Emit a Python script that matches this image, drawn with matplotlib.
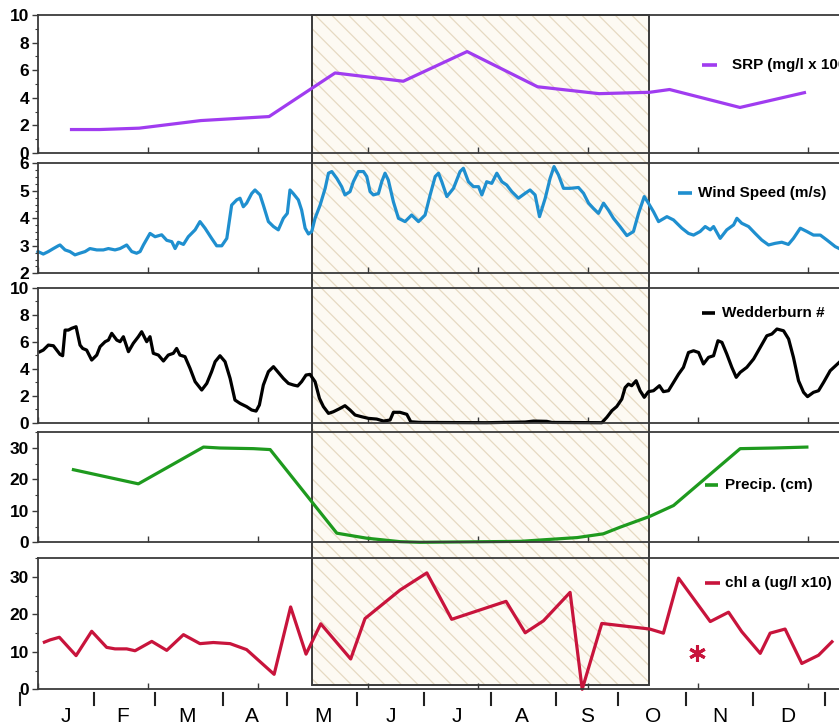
import matplotlib
matplotlib.use('Agg')
import matplotlib.pyplot as plt
from matplotlib.patches import Rectangle
from matplotlib.lines import Line2D
from matplotlib.transforms import blended_transform_factory
from matplotlib.ticker import MultipleLocator, FixedLocator

plt.rcParams['font.family'] = ['Liberation Sans', 'DejaVu Sans']

# ---------------- data (x = day of year) ----------------
srp_day = [14.5, 28, 46, 74, 105, 135, 166, 195, 227, 255, 278, 287, 319, 349]
srp_val = [1.7, 1.7, 1.8, 2.35, 2.64, 5.8, 5.2, 7.35, 4.8, 4.3, 4.4, 4.6, 3.3, 4.4]

wind_day = [0, 2.4, 4.7, 7, 9.2, 10, 12.3, 14.5, 16.8, 19, 21.4, 23.6, 26.7, 29.7, 32, 35, 37.3,
            40.3, 42.6, 44.8, 46.4, 47.9, 50.9, 53.2, 56.2, 58.5, 60.8, 62.3, 63.8, 66.1, 68.3,
            71.4, 73.6, 75.9, 78.9, 81.2, 83.5, 85.8, 88, 90.3, 91.8, 93.3, 94.8, 97.1, 98.6,
            100.9, 102.4, 104.7, 107, 109.2, 111.5, 113.3, 114.5, 116, 118.3, 119.8, 121.4,
            122.9, 124.4, 125.9, 128.2, 130.5, 132, 133.5, 135.8, 138, 139.5, 141.8, 143.3,
            145.6, 147.9, 149.4, 150.9, 152.4, 154.7, 156.2, 157.7, 159.2, 161.5, 163.8, 166.8,
            169.8, 172.9,
            175.9, 178.2, 180.5, 182, 183.5, 185.8, 188.8, 191.8, 193.3, 195.6, 197.9, 200.2,
            201.7, 203.9, 206.2, 208.5, 210.8, 213, 215.3, 218.3, 221.4, 223.6, 225.9, 227.9,
            230.5, 232.7, 234.5, 236.5, 238.8, 241.8, 245.6, 247.9, 250.2, 252.4, 254.7, 257,
            259.2, 261.5, 264.5, 267.6, 270.6, 272.9, 275.5, 277.4, 279.7, 282, 285.8, 288.8,
            292.6, 295.6, 297.9, 300.9, 303.2, 305.5, 307, 310, 313, 316.1, 317.6, 319.8, 322.9,
            325.9, 328.9, 332, 335, 338, 341, 343.3, 346.4, 349.4, 352.4, 355.5, 358.5, 362.3,
            364.1]
wind_val = [2.79, 2.7, 2.79, 2.9, 3.0, 3.03, 2.85, 2.79, 2.67, 2.73, 2.79, 2.9, 2.85, 2.85, 2.9,
            2.85, 2.9, 3.03, 2.79, 2.73, 2.79, 3.03, 3.45, 3.33, 3.4, 3.2, 3.15, 2.9, 3.13, 3.05,
            3.33, 3.58, 3.88, 3.64, 3.27, 3.0, 3.0, 3.27, 4.48, 4.67, 4.73, 4.42, 4.55, 4.9, 5.03,
            4.85, 4.48, 3.88, 3.7, 3.58, 4.0, 4.18, 5.03, 4.9, 4.67, 4.3, 3.64, 3.43, 3.52, 4.0,
            4.48, 5.09, 5.64, 5.7, 5.45, 5.15, 4.85, 4.97, 5.33, 5.7, 5.7, 5.52, 4.97, 4.85, 4.9,
            5.33, 5.64, 5.39, 4.6, 4.0, 3.88, 4.12, 3.88,
            4.12, 4.85, 5.52, 5.64, 5.33, 4.79, 5.09, 5.7, 5.82, 5.33, 5.15, 5.15, 4.85, 5.33,
            5.27, 5.64, 5.33, 5.21, 4.97, 4.73, 4.91, 5.03, 4.85, 4.06, 4.73, 5.45, 5.88, 5.58,
            5.09, 5.09, 5.12, 4.91, 4.55, 4.36, 4.18, 4.55, 4.3, 4.0, 3.7, 3.37, 3.52, 4.18, 4.79,
            4.55, 4.24, 3.88, 4.06, 3.94, 3.64, 3.45, 3.39, 3.52, 3.7, 3.58, 3.7, 3.27, 3.58,
            3.76, 4.0, 3.82, 3.7, 3.45, 3.21, 3.03, 3.09, 3.13, 3.05, 3.27, 3.64, 3.52, 3.39,
            3.39, 3.21, 2.97, 2.9]

wedd_day = [0.9, 2.4, 4.7, 7, 8.5, 10, 11.2, 12.3, 13.8, 15.3, 17.3, 19.1, 20.3, 22.1, 24.4, 26.7,
            28.2, 30.5, 32, 33.5, 35.8, 37.3, 38.8, 41.1, 43.3, 45.6, 47.1, 49.4, 50.9, 52.4,
            54.7, 57, 59.2, 61.5, 63, 64.5, 66.8, 69.1, 71.4, 74.4, 76.7, 78.9, 80.5, 82.7, 85,
            87.3, 89.5, 91.8, 94.8, 97.1, 99.1, 100.6, 102.4, 104.7, 107, 109.2, 111.5, 113.8,
            116.1, 118, 119.8, 121.8, 123.6, 125.9, 127.9, 129.7, 132, 134.2, 137.3, 139.5,
            141.8, 144.1, 147.1, 150.2, 153.9, 157, 160, 161.5, 164.5, 167.6, 169.4, 173.6,
            203.9, 221.4, 225.2, 231.2, 233.5, 256.2, 258.5, 260.8, 263, 265.3, 266.8, 268.3,
            269.8, 271.8, 273.6, 275.5, 277.4, 279.7, 282.4, 284.2, 286.5, 288.8, 291.1, 293.3,
            295.6, 297.9, 300.2, 302.4, 304.7, 307, 309, 310.8, 313, 315.3, 317.3, 319.1, 322.1,
            325.2, 328.2, 331.2, 333.5, 335.8, 338.8, 341.1, 343.3, 345.6, 347.9, 349.7, 352.4,
            354.7, 357, 360, 364.1]
wedd_val = [5.26, 5.38, 5.75, 5.7, 5.38, 5.06, 4.96, 6.86, 6.86, 6.99, 7.11, 5.75, 5.5, 5.38, 4.64,
            5.01, 5.63, 6.0, 6.12, 6.62, 6.12, 6.0, 6.37, 5.26, 5.88, 6.37, 6.74, 6.0, 6.37, 5.14,
            5.01, 4.57, 5.01, 5.14, 5.5, 5.01, 4.89, 4.02, 3.04, 2.42, 2.91, 3.78, 4.52, 4.96,
            4.52, 3.28, 1.68, 1.43, 1.19, 0.94, 0.86, 1.31, 2.79, 3.78, 4.15, 3.73, 3.28, 2.91,
            2.79, 2.72, 3.04, 3.53, 3.58, 3.04, 1.80, 1.19, 0.69, 0.81, 1.06, 1.26, 0.94, 0.57,
            0.44, 0.32, 0.27, 0.12, 0.2, 0.77, 0.77, 0.62, 0.07, 0.02,
            0.0, 0.05, 0.12, 0.1, 0.02, 0.0, 0.4, 0.89, 1.2, 1.75, 2.6, 2.86, 2.74, 3.11, 2.37,
            1.88, 2.3, 2.37, 2.74, 2.3, 2.37, 2.99, 3.6, 4.1, 5.2, 5.33, 5.2, 4.35, 4.84, 4.96,
            6.07, 5.95, 5.09, 4.1, 3.36, 3.73, 4.1, 4.72, 5.58, 6.44, 6.57, 6.94, 6.81, 6.2,
            4.84, 3.11, 2.25, 1.93, 2.25, 2.37, 2.99, 3.85, 4.47]

precip_day = [16.1, 45.6, 75.2, 82.7, 97.9, 105.5, 135.8, 149.4, 164.5, 173.6, 219.1, 245,
              256.9, 264.5, 278.2, 288.8, 319.1, 334.2, 349.4]
precip_val = [23.1, 18.6, 30.3, 30.0, 29.8, 29.5, 2.9, 1.3, 0.2, 0.0, 0.3, 1.5, 2.7, 4.8, 8.3,
              11.7, 29.8, 30.0, 30.3]

chl_day = [2.9, 5.5, 9.7, 17.3, 24.4, 31.2, 35, 40.3, 44.1, 51.7, 58.5, 66.1, 73.6, 79.7, 87.3,
           94.8, 107.3, 114.8, 121.8, 128.5, 142.1, 148.6, 164.5, 176.7, 188, 212.7, 221.4,
           229.7, 241.8, 247.3, 256.2, 278, 284.2, 291.1, 305.5, 313.8, 319.8, 328.2, 332.7,
           339.5, 347.1, 354.7, 360.8]
chl_val = [12.6, 13.2, 13.9, 9.0, 15.5, 11.2, 10.8, 10.8, 10.3, 12.8, 10.4, 14.6, 12.2, 12.5,
           12.2, 10.6, 4.0, 22.0, 9.4, 17.5, 8.1, 18.9, 26.5, 31.1, 18.7, 23.5, 15.1, 18.3,
           25.9, 0.0, 17.6, 16.1, 15.0, 29.7, 18.1, 20.6, 15.4, 9.6, 15.0, 16.1, 6.9, 9.1, 12.7]
chl_star = (299.5, 9.7)

strat_days = (124.5, 277.7)        # hatched (stratified) period
month_labels = ['J', 'F', 'M', 'A', 'M', 'J', 'J', 'A', 'S', 'O', 'N', 'D']
month_label_day = [12.7, 38.6, 67.7, 97.3, 129.5, 160.5, 190.5, 220, 249.5, 279.5, 310, 340.9]
month_sep_day = [-8.2, 25.5, 53.2, 84.1, 113.2, 145.1, 175.5, 206, 235.5, 263.6, 294.5, 325, 357.7]

# ---------------- layout ----------------
W, H = 839, 723
fig = plt.figure(figsize=(W / 100, H / 100), dpi=100)
LEFT = 38

def box(top, bottom):
    return [LEFT / W, 1 - bottom / H, (W - LEFT) / W, (bottom - top) / H]

SPC = '#3a3a3a'
panels = [
    dict(top=15, bottom=153, ylim=(0, 10), major=2, minor=1),
    dict(top=163.3, bottom=273.3, ylim=(2, 6), major=1, minor=0.25),
    dict(top=287.7, bottom=422.7, ylim=(0, 10), major=2, minor=1),
    dict(top=432.3, bottom=542.3, ylim=(0, 35), major=10, minor=5),
    dict(top=558.3, bottom=689.3, ylim=(0, 35), major=10, minor=5),
]
axes = []
for p in panels:
    ax = fig.add_axes(box(p['top'], p['bottom']))
    ax.set_facecolor('none')
    ax.set_xlim(0, 364)
    ax.set_ylim(*p['ylim'])
    lo, hi = p['ylim']
    ticks = [v for v in range(int(lo), int(hi) + 1, p['major'])]
    ax.yaxis.set_major_locator(FixedLocator(ticks))
    ax.yaxis.set_minor_locator(MultipleLocator(p['minor']))
    ax.xaxis.set_major_locator(MultipleLocator(50))
    ax.tick_params(axis='x', direction='in', length=4, width=1, color=SPC, labelbottom=False)
    ax.tick_params(axis='y', which='major', direction='out', length=4, width=1, color=SPC,
                   pad=2.5, labelsize=12.5)
    ax.tick_params(axis='y', which='minor', direction='out', length=2.5, width=0.8, color=SPC)
    for lab in ax.get_yticklabels():
        lab.set_fontweight('bold')
    for s in ['left', 'bottom', 'top']:
        ax.spines[s].set_color(SPC)
        ax.spines[s].set_linewidth(1.3)
    ax.spines['right'].set_visible(False)
    axes.append(ax)

ax1, ax2, ax3, ax4, ax5 = axes
LW = 2.3
ax1.plot(srp_day, srp_val, color='#a03cf0', lw=LW, clip_on=False, solid_capstyle='butt')
ax2.plot(wind_day, wind_val, color='#1f8fcf', lw=LW, clip_on=False)
ax3.plot(wedd_day, wedd_val, color='black', lw=LW, clip_on=False)
ax4.plot(precip_day, precip_val, color='#1e9a1e', lw=LW, clip_on=False)
ax5.plot(chl_day, chl_val, color='#c8143c', lw=LW, clip_on=False)
ax5.plot([chl_star[0]], [chl_star[1]], marker=(6, 2, 0), ms=12, mew=2.2,
         color='#c8143c', linestyle='none', clip_on=False)

# hatched stratified period spanning all panels
tr = blended_transform_factory(ax5.transData, fig.transFigure)
y0 = 1 - 685 / H
y1 = 1 - 15 / H
plt.rcParams['hatch.linewidth'] = 0.9
hatch = Rectangle((strat_days[0], y0), strat_days[1] - strat_days[0], y1 - y0,
                  transform=tr, facecolor='#fdfaf3', edgecolor='#e6d9c2', hatch='\\\\',
                  linewidth=0, zorder=-2)
fig.add_artist(hatch)
outline = Rectangle((strat_days[0], y0), strat_days[1] - strat_days[0], y1 - y0,
                    transform=tr, facecolor='none', edgecolor='#3a3a3a', linewidth=1.4,
                    zorder=-1)
fig.add_artist(outline)

# legends
def legend(xl0, xl1, ypx, xt, label, color):
    yf = 1 - ypx / H
    fig.add_artist(Line2D([xl0 / W, xl1 / W], [yf, yf], transform=fig.transFigure,
                          color=color, lw=2.6, solid_capstyle='butt'))
    fig.text(xt / W, yf, label, ha='left', va='center', fontsize=11, fontweight='bold',
             color='black')

legend(702, 717, 65, 732, 'SRP (mg/l x 100)', '#a03cf0')
legend(678, 692, 193, 698, 'Wind Speed (m/s)', '#1f8fcf')
legend(702, 715, 313, 722, 'Wedderburn #', 'black')
legend(705, 718, 485, 725, 'Precip. (cm)', '#1e9a1e')
legend(705, 720, 583, 725, 'chl a (ug/l x10)', '#c8143c')

# month separators and labels
trx = blended_transform_factory(ax5.transData, fig.transFigure)
for d in month_sep_day:
    fig.add_artist(Line2D([d, d], [1 - 693 / H, 1 - 705 / H], transform=trx,
                          color='#222222', lw=1.5))
for d, lab in zip(month_label_day, month_labels):
    fig.text(d, 1 - 722 / H, lab, transform=trx, ha='center', va='baseline',
             fontsize=15, color='black')

fig.savefig('out.png', dpi=100)
